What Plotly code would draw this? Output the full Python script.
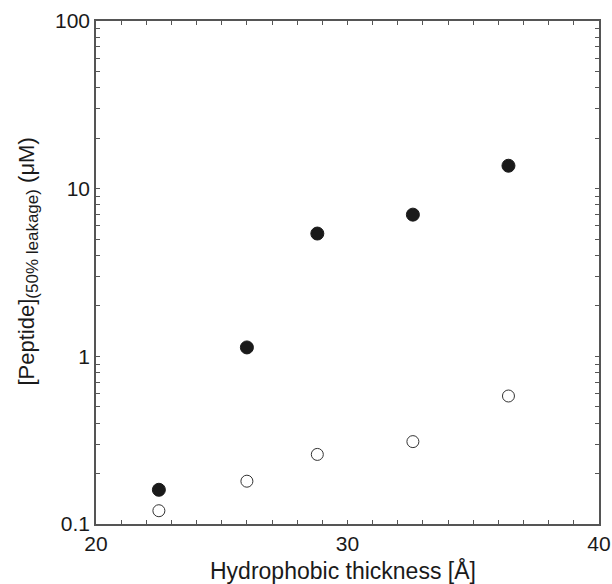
import plotly.graph_objects as go

thickness = [22.5, 26.0, 28.8, 32.6, 36.4]
filled_vals = [0.16, 1.13, 5.4, 7.0, 13.7]
open_vals = [0.12, 0.18, 0.26, 0.31, 0.58]

x_tickvals = list(range(20, 41))
x_ticktext = [str(v) if v % 10 == 0 else "" for v in x_tickvals]

y_tickvals = []
y_ticktext = []
for dec in [0.1, 1, 10]:
    for m in range(1, 10):
        y_tickvals.append(round(dec * m, 4))
        y_ticktext.append(("0.1" if dec == 0.1 else str(int(dec))) if m == 1 else "")
y_tickvals.append(100)
y_ticktext.append("100")

FONT = "Liberation Sans, Arial, sans-serif"

fig = go.Figure()
fig.add_trace(go.Scatter(x=thickness, y=filled_vals, mode="markers",
                         marker=dict(symbol="circle", size=13, color="#1a1a1a",
                                     line=dict(color="#1a1a1a", width=1))))
fig.add_trace(go.Scatter(x=thickness, y=open_vals, mode="markers",
                         marker=dict(symbol="circle-open", size=12, color="#333333",
                                     line=dict(color="#333333", width=1))))

axis_common = dict(showgrid=False, zeroline=False, showline=True, linecolor="#555555",
                   linewidth=1.5, mirror="ticks", ticks="inside", ticklen=4,
                   tickcolor="#555555", tickwidth=1, automargin=False,
                   ticklabeloverflow="allow",
                   tickfont=dict(family=FONT, size=21, color="#1a1a1a"))

fig.update_layout(
    width=612, height=584,
    margin=dict(l=96, r=13, t=21, b=60, autoexpand=False),
    paper_bgcolor="white", plot_bgcolor="white",
    showlegend=False,
    font=dict(family=FONT, color="#1a1a1a"),
    xaxis=dict(range=[20, 40], tickmode="array", tickvals=x_tickvals, ticktext=x_ticktext,
               **axis_common),
    yaxis=dict(type="log", range=[-1, 2], tickmode="array", tickvals=y_tickvals,
               ticktext=y_ticktext, **axis_common),
    annotations=[
        dict(text="[Peptide]<sub><span style='font-size:17px'>(50% leakage)</span></sub> (μM)",
             xref="paper", yref="paper", x=-0.135, y=0.522, xanchor="center", yanchor="middle",
             textangle=-90, showarrow=False, font=dict(family=FONT, size=22, color="#1a1a1a")),
        dict(text="Hydrophobic thickness [Å]",
             xref="paper", yref="paper", x=0.492, y=-0.0915, xanchor="center", yanchor="middle",
             showarrow=False, font=dict(family=FONT, size=23, color="#1a1a1a")),
    ],
)

fig.write_html("out.html", config={"displayModeBar": False},
               post_script="document.body.style.margin='0px';")
